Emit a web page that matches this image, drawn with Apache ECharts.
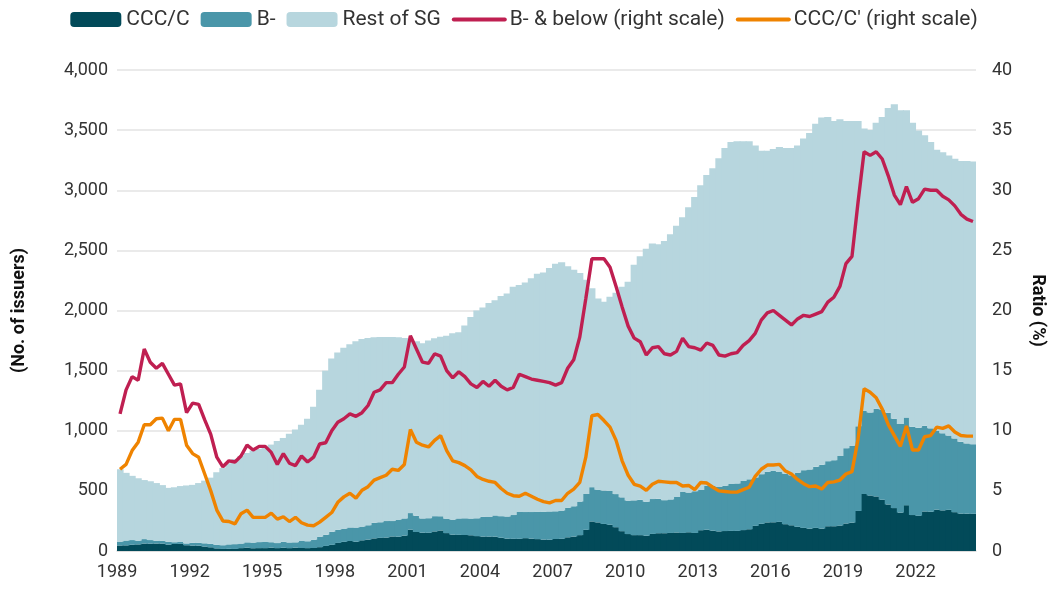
<!DOCTYPE html>
<html>
<head>
    <meta charset="UTF-8">
    <title>Speculative-grade issuers</title>
    <script src="https://cdn.jsdelivr.net/npm/echarts@6/dist/echarts.min.js"></script>
    <style>
        html, body { margin: 0; padding: 0; background: #fff; }
    </style>
</head>
<body>
    <div id="main" style="width: 1048px; height: 591px;"></div>

    <script>
        // quarterly, 1989Q1 .. 2024Q2
        var firstYear = 1989;
        var nQuarters = 142;

        // number of issuers (stacked bars)
        var cccC = [46, 47, 52, 55, 62, 61, 62, 61, 53, 58, 59, 48, 45, 44, 37, 31, 22, 17, 18, 17,
            24, 28, 23, 24, 24, 28, 24, 27, 24, 28, 25, 24, 25, 32, 42, 51, 67, 76, 83, 77,
            89, 95, 105, 109, 112, 121, 119, 128, 178, 158, 152, 151, 163, 171, 149, 136, 134, 133, 131, 124,
            120, 120, 119, 110, 103, 101, 101, 107, 103, 99, 95, 94, 100, 101, 114, 120, 132, 176, 246, 238,
            225, 218, 198, 165, 141, 132, 132, 127, 142, 148, 148, 150, 154, 150, 156, 150, 173, 177, 169, 163,
            166, 167, 167, 174, 181, 209, 226, 238, 239, 242, 223, 214, 201, 192, 186, 192, 186, 206, 206, 212,
            229, 236, 333, 474, 462, 454, 426, 387, 357, 319, 381, 299, 294, 329, 326, 344, 338, 342, 323, 311,
            310, 309];
        var bMinus = [32, 40, 39, 31, 37, 30, 24, 24, 24, 15, 16, 15, 23, 25, 27, 28, 29, 31, 37, 40,
            38, 44, 47, 50, 51, 45, 42, 49, 47, 44, 58, 57, 69, 87, 93, 109, 110, 110, 113, 118,
            114, 119, 130, 130, 137, 128, 142, 143, 137, 135, 119, 122, 127, 118, 120, 125, 137, 139, 139, 148,
            165, 163, 177, 180, 184, 198, 224, 217, 221, 228, 232, 235, 230, 235, 246, 252, 279, 298, 285, 272,
            278, 281, 275, 281, 278, 289, 294, 283, 290, 286, 275, 279, 295, 341, 330, 347, 335, 364, 375, 370,
            377, 391, 395, 409, 415, 402, 413, 421, 429, 416, 420, 416, 450, 480, 492, 508, 531, 541, 549, 578,
            626, 640, 704, 693, 690, 729, 751, 762, 743, 737, 730, 734, 731, 712, 694, 657, 641, 618, 613, 597,
            585, 579];
        var restOfSG = [602, 563, 534, 519, 491, 489, 479, 463, 448, 457, 465, 482, 482, 496, 521, 551, 604, 642, 675, 708,
            728, 743, 765, 776, 790, 812, 849, 864, 904, 938, 967, 1019, 1106, 1221, 1365, 1440, 1473, 1504, 1524, 1550,
            1559, 1558, 1543, 1541, 1531, 1531, 1517, 1501, 1445, 1452, 1457, 1477, 1480, 1493, 1521, 1549, 1549, 1603, 1675, 1729,
            1739, 1780, 1790, 1830, 1855, 1899, 1887, 1908, 1945, 1978, 1989, 2024, 2059, 2065, 2007, 1967, 1900, 1781, 1653, 1590,
            1569, 1615, 1675, 1752, 1821, 1960, 2025, 2103, 2126, 2116, 2155, 2205, 2255, 2284, 2373, 2446, 2534, 2585, 2638, 2734,
            2808, 2843, 2845, 2824, 2811, 2762, 2689, 2669, 2674, 2701, 2708, 2721, 2722, 2758, 2799, 2853, 2887, 2862, 2821, 2800,
            2721, 2700, 2539, 2347, 2350, 2379, 2432, 2534, 2616, 2610, 2555, 2529, 2472, 2417, 2381, 2336, 2338, 2329, 2325, 2336,
            2349, 2352];

        // ratios (%), right scale
        var bAndBelow = [11.4, 13.4, 14.5, 14.2, 16.8, 15.7, 15.2, 15.6, 14.7, 13.8, 13.9, 11.5, 12.3, 12.2, 10.9, 9.7, 7.8, 7.0, 7.5, 7.4,
            7.9, 8.8, 8.4, 8.7, 8.7, 8.2, 7.2, 8.1, 7.3, 7.1, 7.9, 7.4, 7.8, 8.9, 9.0, 10.0, 10.7, 11.0, 11.4, 11.2,
            11.5, 12.1, 13.2, 13.4, 14.0, 14.0, 14.7, 15.3, 17.9, 16.8, 15.7, 15.6, 16.4, 16.2, 15.0, 14.4, 14.9, 14.5, 13.9, 13.6,
            14.1, 13.7, 14.2, 13.7, 13.4, 13.6, 14.7, 14.5, 14.3, 14.2, 14.1, 14.0, 13.8, 14.0, 15.2, 15.9, 17.8, 21.0, 24.3, 24.3,
            24.3, 23.6, 22.0, 20.3, 18.7, 17.7, 17.4, 16.3, 16.9, 17.0, 16.4, 16.3, 16.6, 17.7, 17.0, 16.9, 16.7, 17.3, 17.1, 16.3,
            16.2, 16.4, 16.5, 17.1, 17.5, 18.1, 19.2, 19.8, 20.0, 19.6, 19.2, 18.8, 19.3, 19.6, 19.5, 19.7, 19.9, 20.7, 21.1, 22.0,
            23.9, 24.5, 29.0, 33.2, 32.9, 33.2, 32.6, 31.2, 29.6, 28.8, 30.3, 29.0, 29.3, 30.1, 30.0, 30.0, 29.5, 29.2, 28.7, 28.0,
            27.6, 27.4];
        var cccRatio = [6.8, 7.2, 8.35, 9.05, 10.5, 10.5, 11.0, 11.05, 10.0, 10.95, 10.95, 8.8, 8.1, 7.8, 6.4, 5.0, 3.4, 2.5, 2.45, 2.25,
            3.1, 3.4, 2.8, 2.8, 2.8, 3.15, 2.65, 2.85, 2.45, 2.8, 2.35, 2.15, 2.1, 2.4, 2.8, 3.2, 4.05, 4.5, 4.8, 4.4,
            5.05, 5.35, 5.9, 6.1, 6.3, 6.8, 6.7, 7.2, 10.1, 9.05, 8.8, 8.65, 9.2, 9.6, 8.35, 7.5, 7.35, 7.1, 6.75, 6.2,
            5.95, 5.8, 5.7, 5.2, 4.8, 4.6, 4.55, 4.8, 4.55, 4.3, 4.1, 4.0, 4.2, 4.2, 4.8, 5.15, 5.7, 7.8, 11.25, 11.35,
            10.85, 10.3, 9.2, 7.5, 6.3, 5.55, 5.4, 5.05, 5.55, 5.8, 5.75, 5.7, 5.7, 5.4, 5.45, 5.1, 5.7, 5.65, 5.3, 5.0,
            4.95, 4.9, 4.9, 5.1, 5.3, 6.2, 6.8, 7.15, 7.15, 7.2, 6.65, 6.4, 5.95, 5.6, 5.35, 5.4, 5.15, 5.7, 5.75, 5.9,
            6.4, 6.6, 9.3, 13.5, 13.2, 12.75, 11.8, 10.5, 9.6, 8.7, 10.4, 8.4, 8.4, 9.5, 9.6, 10.3, 10.2, 10.4, 9.9, 9.6,
            9.55, 9.55];

        // category labels: year on Q1, quarter tag otherwise
        var quarters = [];
        for (var k = 0; k < nQuarters; k++) {
            var yr = firstYear + Math.floor(k / 4);
            quarters.push(k % 4 === 0 ? String(yr) : yr + 'Q' + (k % 4 + 1));
        }

        var txt = '#333333';
        var font = 'Roboto, "Noto Sans", sans-serif';

        var myChart = echarts.init(document.getElementById('main'));

        // legend: hide the marker dot on the line entries
        var noDot = { opacity: 0 };

        // bars a bit wider than their band so neighbours overlap (no white seams)
        var barW = '118%';

        var option = {
            animation: false,
            backgroundColor: '#ffffff',
            textStyle: { fontFamily: font, color: txt },
            legend: {
                top: 4,
                left: 'center',
                itemWidth: 51,
                itemHeight: 15,
                itemGap: 11,
                textStyle: { fontSize: 21, color: txt, fontFamily: font },
                lineStyle: { width: 4, cap: 'round' },
                data: [
                    'CCC/C',
                    'B-',
                    'Rest of SG',
                    { name: 'B- & below (right scale)', itemStyle: noDot },
                    { name: "CCC/C' (right scale)", itemStyle: noDot }
                ]
            },
            grid: {
                left: 117,
                right: 72,
                top: 70,
                bottom: 40,
                containLabel: false,
                outerBoundsMode: 'none'
            },
            xAxis: {
                type: 'category',
                data: quarters,
                axisLine: { show: true, lineStyle: { color: '#d9d9d9', width: 1.5 } },
                axisTick: { show: false },
                axisLabel: {
                    interval: function (index) { return index % 12 === 0; },
                    color: txt,
                    fontSize: 18,
                    margin: 12,
                    padding: [0, 6, 0, 0]
                }
            },
            yAxis: [
                {
                    type: 'value',
                    min: 0,
                    max: 4000,
                    interval: 500,
                    name: '(No. of issuers)',
                    nameLocation: 'middle',
                    nameRotate: 90,
                    nameGap: 89,
                    nameTextStyle: { fontSize: 18, fontWeight: 'bold', color: '#111' },
                    axisLine: { show: false },
                    axisTick: { show: false },
                    axisLabel: {
                        color: txt,
                        fontSize: 18,
                        margin: 9,
                        formatter: function (v) { return v.toLocaleString('en-US'); }
                    },
                    splitLine: { lineStyle: { color: '#e3e3e3', width: 1.5 } }
                },
                {
                    type: 'value',
                    min: 0,
                    max: 40,
                    interval: 5,
                    name: 'Ratio (%)',
                    nameLocation: 'middle',
                    nameRotate: -90,
                    nameGap: 52,
                    nameTextStyle: { fontSize: 18, fontWeight: 'bold', color: '#111' },
                    axisLine: { show: false },
                    axisTick: { show: false },
                    axisLabel: { color: txt, fontSize: 18, margin: 16 },
                    splitLine: { show: false }
                }
            ],
            series: [
                {
                    name: 'CCC/C',
                    type: 'bar',
                    stack: 'issuers',
                    barWidth: barW,
                    itemStyle: { color: '#024a59' },
                    data: cccC
                },
                {
                    name: 'B-',
                    type: 'bar',
                    stack: 'issuers',
                    barWidth: barW,
                    itemStyle: { color: '#4a96a9' },
                    data: bMinus
                },
                {
                    name: 'Rest of SG',
                    type: 'bar',
                    stack: 'issuers',
                    barWidth: barW,
                    itemStyle: { color: '#b7d6de' },
                    data: restOfSG
                },
                {
                    name: 'B- & below (right scale)',
                    type: 'line',
                    yAxisIndex: 1,
                    symbol: 'none',
                    z: 5,
                    lineStyle: { color: '#bf1f51', width: 3.4 },
                    itemStyle: { color: '#bf1f51' },
                    data: bAndBelow
                },
                {
                    name: "CCC/C' (right scale)",
                    type: 'line',
                    yAxisIndex: 1,
                    symbol: 'none',
                    z: 5,
                    lineStyle: { color: '#ef8300', width: 3.4 },
                    itemStyle: { color: '#ef8300' },
                    data: cccRatio
                }
            ]
        };

        myChart.setOption(option);
    </script>
</body>
</html>
